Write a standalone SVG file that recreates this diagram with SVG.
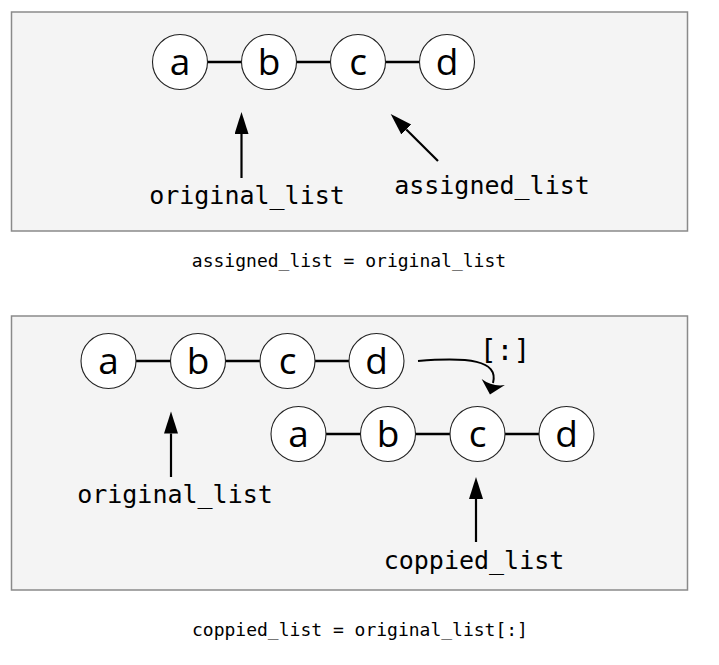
<svg xmlns="http://www.w3.org/2000/svg" width="719" height="665" viewBox="0 0 719 665">
<style>
.panel{fill:#f4f4f4;stroke:#8a8a8a;stroke-width:1.5}
.node circle{fill:#ffffff;stroke:#222;stroke-width:1.1}
.node text{font-family:"Open Sans","Noto Sans","DejaVu Sans",sans-serif;font-size:37px;fill:#000;text-anchor:middle}
.link{stroke:#000;stroke-width:2.6;fill:none}
.ptr{stroke:#000;stroke-width:2.2;fill:none;marker-end:url(#head)}
.label{font-family:"DejaVu Sans Mono","Liberation Mono",monospace;font-size:25px;fill:#000;text-anchor:middle}
.slice{font-family:"DejaVu Sans Mono","Liberation Mono",monospace;font-size:28px;fill:#000;text-anchor:middle}
.caption{font-family:"DejaVu Sans Mono","Liberation Mono",monospace;font-size:18px;fill:#000;text-anchor:middle}
</style>
<defs>
<marker id="head" markerUnits="userSpaceOnUse" markerWidth="24" markerHeight="16" refX="0" refY="7" orient="auto">
<path d="M0,0 L22,7 L0,14 z" fill="#000"/>
</marker>
<marker id="headCurve" markerUnits="userSpaceOnUse" markerWidth="16" markerHeight="26" refX="1" refY="12" orient="auto">
<path d="M0,0 Q5,12 0,24 L13,12 z" fill="#000"/>
</marker>
</defs>
<rect class="panel" x="11.5" y="12" width="676" height="219"/>
<rect class="panel" x="11.5" y="316" width="676" height="274"/>
<g id="connectors">
<line class="link" x1="180" y1="62" x2="358" y2="62"/>
<line class="link" x1="358" y1="62" x2="447" y2="62"/>
<line class="link" x1="108" y1="361" x2="377" y2="361"/>
<line class="link" x1="298.5" y1="434" x2="566.5" y2="434"/>
<line class="ptr" x1="241.5" y1="178" x2="241.5" y2="134"/>
<line class="ptr" x1="438" y1="161" x2="406.3" y2="129.5"/>
<line class="ptr" x1="171" y1="477" x2="171" y2="433.5"/>
<line class="ptr" x1="476" y1="542" x2="476" y2="499"/>
<path d="M418,361 C468,357 499,360 493,383" stroke="#000" stroke-width="2" fill="none" marker-end="url(#headCurve)"/>
</g>
<g id="top-a" class="node"><circle cx="180" cy="62" r="27.5"/><text x="180" y="75">a</text></g>
<g id="top-b" class="node"><circle cx="269" cy="62" r="27.5"/><text x="269" y="75">b</text></g>
<g id="top-c" class="node"><circle cx="358" cy="62" r="27.5"/><text x="358" y="75">c</text></g>
<g id="top-d" class="node"><circle cx="447" cy="62" r="27.5"/><text x="447" y="75">d</text></g>
<g id="orig-a" class="node"><circle cx="108.5" cy="361" r="27.5"/><text x="108.5" y="374">a</text></g>
<g id="orig-b" class="node"><circle cx="198" cy="361" r="27.5"/><text x="198" y="374">b</text></g>
<g id="orig-c" class="node"><circle cx="287.5" cy="361" r="27.5"/><text x="287.5" y="374">c</text></g>
<g id="orig-d" class="node"><circle cx="376.5" cy="361" r="27.5"/><text x="376.5" y="374">d</text></g>
<g id="copy-a" class="node"><circle cx="298.5" cy="434" r="27.5"/><text x="298.5" y="447">a</text></g>
<g id="copy-b" class="node"><circle cx="388" cy="434" r="27.5"/><text x="388" y="447">b</text></g>
<g id="copy-c" class="node"><circle cx="477.5" cy="434" r="27.5"/><text x="477.5" y="447">c</text></g>
<g id="copy-d" class="node"><circle cx="566.5" cy="434" r="27.5"/><text x="566.5" y="447">d</text></g>
<g id="labels">
<text class="label" x="247" y="204">original_list</text>
<text class="label" x="492" y="194">assigned_list</text>
<text class="label" x="175" y="503">original_list</text>
<text class="label" x="474" y="569">coppied_list</text>
<text class="slice" x="505" y="360">[:]</text>
<text class="caption" x="349" y="267">assigned_list = original_list</text>
<text class="caption" x="360" y="636">coppied_list = original_list[:]</text>
</g>
</svg>
